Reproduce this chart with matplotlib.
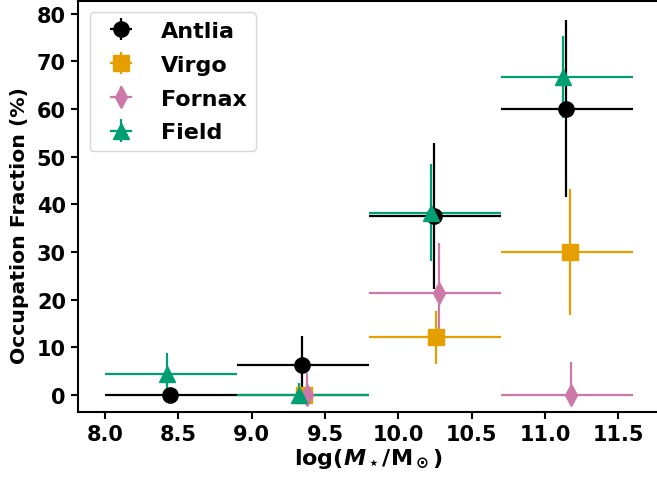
import matplotlib
matplotlib.use("Agg")
import matplotlib.pyplot as plt
import numpy as np

plt.rcParams['font.family'] = ['DejaVu Sans']
plt.rcParams['font.weight'] = 'bold'
plt.rcParams['axes.labelweight'] = 'bold'
plt.rcParams['mathtext.fontset'] = 'custom'
plt.rcParams['mathtext.rm'] = 'DejaVu Sans:bold'
plt.rcParams['mathtext.it'] = 'DejaVu Sans:italic:bold'
plt.rcParams['mathtext.bf'] = 'DejaVu Sans:bold'

# bin edges in log stellar mass
bin_lo = [8.0, 8.9, 9.8, 10.7]
bin_hi = [8.9, 9.8, 10.7, 11.6]

# Antlia
antlia_bin = [0, 1, 2, 3]
antlia_x = [8.44, 9.34, 10.24, 11.14]
antlia_y = [0.0, 6.3, 37.6, 60.1]
antlia_elo = [0.0, 6.0, 15.3, 18.5]
antlia_ehi = [0.0, 6.0, 15.3, 18.6]

# Virgo
virgo_bin = [1, 2, 3]
virgo_x = [9.36, 10.26, 11.17]
virgo_y = [0.0, 12.2, 30.1]
virgo_elo = [0.0, 5.8, 13.4]
virgo_ehi = [0.0, 5.5, 13.2]

# Fornax
fornax_bin = [1, 2, 3]
fornax_x = [9.38, 10.28, 11.18]
fornax_y = [0.0, 21.4, 0.0]
fornax_elo = [0.0, 10.5, 0.0]
fornax_ehi = [4.6, 10.5, 7.0]

# Field
field_bin = [0, 1, 2, 3]
field_x = [8.42, 9.32, 10.22, 11.12]
field_y = [4.4, 0.0, 38.2, 66.8]
field_elo = [4.4, 0.0, 10.1, 8.6]
field_ehi = [4.4, 2.5, 10.3, 8.5]

series = [
    ("Antlia", antlia_bin, antlia_x, antlia_y, antlia_elo, antlia_ehi, "black", "o"),
    ("Virgo", virgo_bin, virgo_x, virgo_y, virgo_elo, virgo_ehi, "#E69F00", "s"),
    ("Fornax", fornax_bin, fornax_x, fornax_y, fornax_elo, fornax_ehi, "#CC79A7", "d"),
    ("Field", field_bin, field_x, field_y, field_elo, field_ehi, "#009E73", "^"),
]

W, H = 657, 481
fig = plt.figure(figsize=(W / 100, H / 100), dpi=100)
left, right, top, bottom = 77.7, 659.4, 2.0, 413.0
ax = fig.add_axes([left / W, 1 - bottom / H, (right - left) / W, (bottom - top) / H])

for name, bins, x, y, elo, ehi, col, mk in series:
    x = np.array(x)
    lo = np.array([bin_lo[b] for b in bins])
    hi = np.array([bin_hi[b] for b in bins])
    ax.errorbar(x, y, xerr=[x - lo, hi - x], yerr=[elo, ehi], fmt=mk, color=col,
                ms=11, elinewidth=1.6, capsize=0, label=name)

ax.set_xlim(7.814, 11.78)
ax.set_ylim(-3.6, 82.7)
ax.set_xticks([8.0, 8.5, 9.0, 9.5, 10.0, 10.5, 11.0, 11.5])
ax.set_yticks([0, 10, 20, 30, 40, 50, 60, 70, 80])
ax.tick_params(labelsize=15, width=1.5, length=5)
for lab in ax.get_xticklabels() + ax.get_yticklabels():
    lab.set_fontweight('bold')
for s in ax.spines.values():
    s.set_linewidth(1.5)

ax.set_xlabel(r'log($M_\star$/M$_\odot$)', fontsize=16, fontweight='bold', labelpad=2)
ax.set_ylabel('Occupation Fraction (%)', fontsize=14.7, fontweight='bold')
ax.yaxis.set_label_coords(-0.083, 0.457)

leg = ax.legend(loc='upper left', prop={'size': 16, 'weight': 'bold'},
                handletextpad=0.8, borderpad=0.4, labelspacing=0.62,
                handlelength=2.0, bbox_to_anchor=(0.002, 1.0))

fig.savefig("out.png", dpi=100)
